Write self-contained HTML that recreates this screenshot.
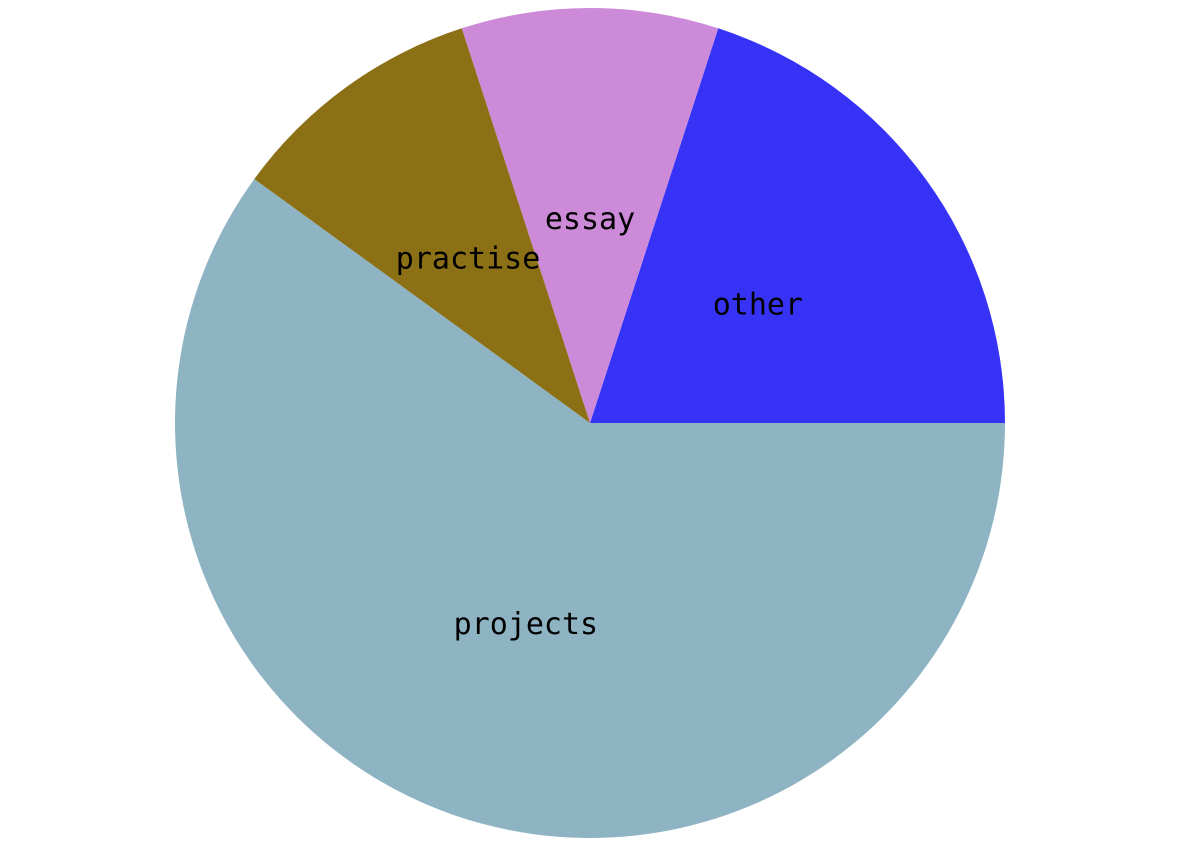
<!DOCTYPE html>
<html><head><meta charset="utf-8"><style>
html,body{margin:0;padding:0;background:#fff;}
svg{display:block;}
text{font-family:"DejaVu Sans Mono","Liberation Mono",monospace;font-size:30px;fill:#000;}
</style></head><body>
<svg id="chart" width="1179" height="846" viewBox="0 0 1179 846"></svg>
<script>
const labels = ["other","essay","practise","projects"];
const values = [20,10,10,60];
const colors = ["#3633f7","#cd8ad8","#8c7016","#8eb3c3"];
const cx=590, cy=423, r=415, labelR=0.5;
const svg=document.getElementById('chart');
const NS='http://www.w3.org/2000/svg';
const total=values.reduce((a,b)=>a+b,0);
let a0=0;
values.forEach((v,i)=>{
  const a1=a0+v/total*2*Math.PI;
  const x0=cx+r*Math.cos(a0), y0=cy-r*Math.sin(a0);
  const x1=cx+r*Math.cos(a1), y1=cy-r*Math.sin(a1);
  const large=(a1-a0)>Math.PI?1:0;
  const p=document.createElementNS(NS,'path');
  p.setAttribute('d',`M${cx},${cy} L${x0},${y0} A${r},${r} 0 ${large} 0 ${x1},${y1} Z`);
  p.setAttribute('fill',colors[i]);
  
  
  svg.appendChild(p);
  const am=(a0+a1)/2;
  const t=document.createElementNS(NS,'text');
  t.setAttribute('x',cx+labelR*r*Math.cos(am));
  t.setAttribute('y',cy-labelR*r*Math.sin(am)+4);
  t.setAttribute('text-anchor','middle');
  t.setAttribute('dominant-baseline','central');
  t.textContent=labels[i];
  
  
  svg.appendChild(t);
  a0=a1;
});
</script>
</body></html>
